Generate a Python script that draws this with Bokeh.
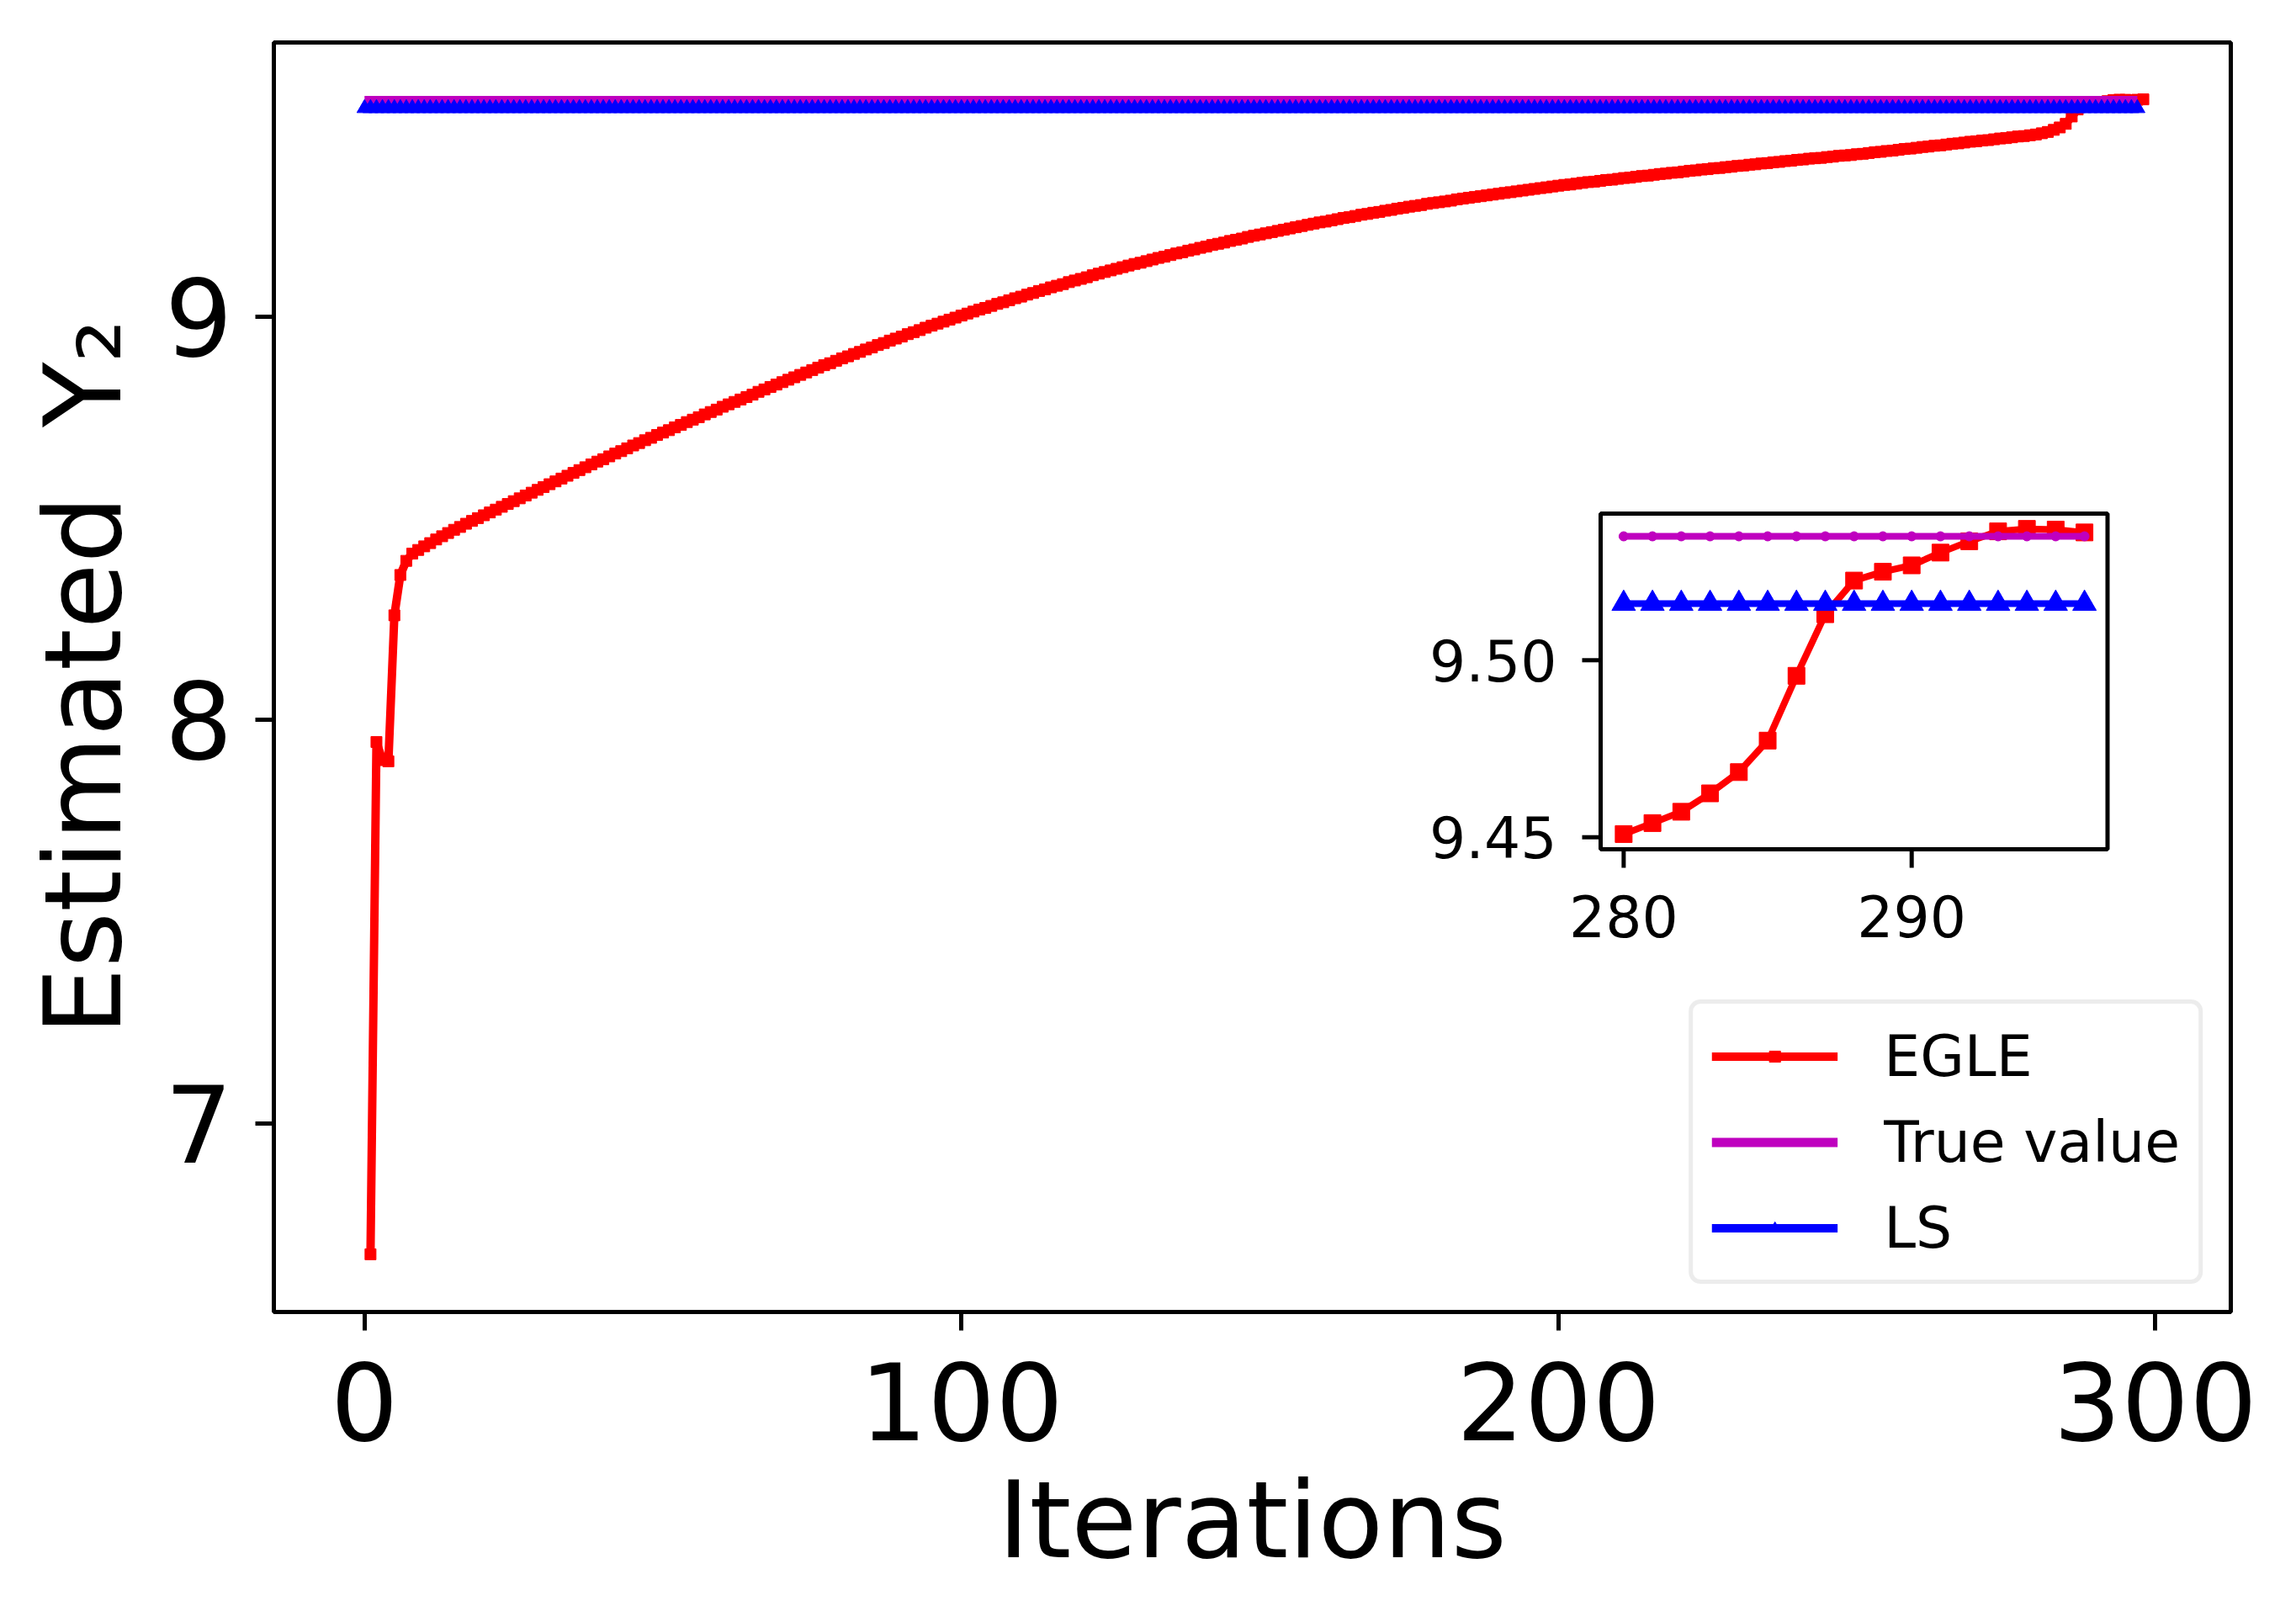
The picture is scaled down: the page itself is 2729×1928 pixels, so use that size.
import numpy as np
from bokeh.plotting import figure
from bokeh.models import Range1d, FixedTicker, Legend, LegendItem
from bokeh.embed import file_html
from bokeh.resources import INLINE
from bokeh.core.properties import value

# ---------------- data ----------------
egle_iterations = list(range(1, 299))          # 1 .. 298
egle_estimate = [
    6.675, 7.945, 7.900, 7.897, 8.259, 8.359, 8.394, 8.412, 8.421, 8.430,
    8.438, 8.447, 8.455, 8.463, 8.471, 8.478, 8.486, 8.493, 8.500, 8.507,
    8.514, 8.521, 8.528, 8.535, 8.542, 8.549, 8.556, 8.563, 8.570, 8.577,
    8.584, 8.591, 8.598, 8.605, 8.612, 8.619, 8.626, 8.633, 8.640, 8.646,
    8.653, 8.660, 8.666, 8.673, 8.680, 8.686, 8.693, 8.699, 8.706, 8.712,
    8.718, 8.725, 8.731, 8.738, 8.744, 8.750, 8.757, 8.763, 8.769, 8.776,
    8.782, 8.788, 8.794, 8.800, 8.806, 8.813, 8.819, 8.825, 8.831, 8.837,
    8.843, 8.849, 8.855, 8.861, 8.867, 8.873, 8.879, 8.884, 8.890, 8.896,
    8.901, 8.907, 8.912, 8.918, 8.923, 8.929, 8.934, 8.940, 8.945, 8.950,
    8.956, 8.961, 8.966, 8.972, 8.977, 8.982, 8.987, 8.992, 8.997, 9.002,
    9.007, 9.012, 9.017, 9.021, 9.026, 9.031, 9.035, 9.040, 9.045, 9.049,
    9.054, 9.058, 9.063, 9.067, 9.072, 9.076, 9.080, 9.085, 9.089, 9.093,
    9.097, 9.102, 9.106, 9.110, 9.114, 9.118, 9.122, 9.126, 9.130, 9.133,
    9.137, 9.141, 9.145, 9.148, 9.152, 9.156, 9.159, 9.163, 9.166, 9.170,
    9.173, 9.177, 9.180, 9.183, 9.187, 9.190, 9.193, 9.197, 9.200, 9.203,
    9.206, 9.209, 9.212, 9.215, 9.218, 9.221, 9.224, 9.227, 9.230, 9.233,
    9.235, 9.238, 9.241, 9.244, 9.246, 9.249, 9.252, 9.254, 9.257, 9.259,
    9.262, 9.264, 9.267, 9.269, 9.272, 9.274, 9.276, 9.279, 9.281, 9.283,
    9.285, 9.287, 9.290, 9.292, 9.294, 9.296, 9.298, 9.300, 9.302, 9.304,
    9.306, 9.308, 9.310, 9.312, 9.314, 9.316, 9.318, 9.320, 9.322, 9.324,
    9.326, 9.327, 9.329, 9.331, 9.333, 9.334, 9.336, 9.338, 9.339, 9.341,
    9.343, 9.344, 9.346, 9.348, 9.349, 9.351, 9.353, 9.354, 9.356, 9.357,
    9.359, 9.361, 9.362, 9.364, 9.365, 9.367, 9.368, 9.370, 9.371, 9.373,
    9.374, 9.376, 9.377, 9.379, 9.380, 9.382, 9.383, 9.385, 9.386, 9.388,
    9.389, 9.391, 9.392, 9.393, 9.395, 9.396, 9.398, 9.399, 9.400, 9.402,
    9.403, 9.405, 9.407, 9.408, 9.410, 9.411, 9.413, 9.415, 9.416, 9.418,
    9.420, 9.421, 9.423, 9.424, 9.426, 9.428, 9.429, 9.431, 9.433, 9.434,
    9.436, 9.437, 9.439, 9.441, 9.442, 9.444, 9.446, 9.447, 9.449, 9.4509,
    9.4540, 9.4572, 9.4624, 9.4684, 9.4773, 9.4956, 9.5130, 9.5225, 9.5250, 9.5268,
    9.5304, 9.5336, 9.5364, 9.5371, 9.5369, 9.5361, 9.5370, 9.5380,
]
ref_iterations = list(range(0, 298))            # 0 .. 297
TRUE_VALUE = 9.535
LS_VALUE = 9.516
true_series = [TRUE_VALUE] * len(ref_iterations)
ls_series = [LS_VALUE] * len(ref_iterations)

main_x_ticks = [0, 100, 200, 300]
main_y_ticks = [7, 8, 9]
inset_first, inset_last = 280, 296
inset_x_ticks = [280, 290]
inset_x_labels = ["280", "290"]
inset_y_ticks = [9.45, 9.50]
inset_y_labels = ["9.45", "9.50"]

RED = "#ff0000"
MAGENTA = "#bf00bf"
BLUE = "#0000ff"
FONT = "DejaVu Sans"

# inset series (same data, zoomed window)
inset_x = [x for x in egle_iterations if inset_first <= x <= inset_last]
inset_egle = [egle_estimate[egle_iterations.index(x)] for x in inset_x]
inset_true = [TRUE_VALUE] * len(inset_x)
inset_ls = [LS_VALUE] * len(inset_x)

# ---------------- figure ----------------
W, H = 2712, 1910
FRAME_W, FRAME_H = 2326, 1509
LEFT, TOP = 325, 50
p = figure(width=W, height=H,
           x_range=Range1d(-15.19, 312.65), y_range=Range1d(6.532, 9.679),
           output_backend="svg", toolbar_location=None,
           min_border_left=LEFT, min_border_right=W - LEFT - FRAME_W,
           min_border_top=TOP, min_border_bottom=H - TOP - FRAME_H)
p.xgrid.visible = False
p.ygrid.visible = False
p.outline_line_color = "black"
p.outline_line_width = 5
p.background_fill_color = "white"
p.border_fill_color = "white"

for ax in (p.xaxis[0], p.yaxis[0]):
    ax.axis_line_color = None
    ax.major_tick_in = 0
    ax.major_tick_out = 22
    ax.major_tick_line_width = 5
    ax.major_tick_line_color = "black"
    ax.minor_tick_line_color = None
    ax.major_label_text_font = FONT
    ax.major_label_text_font_size = "127px"
    ax.major_label_text_color = "black"
    ax.axis_label_text_font = FONT
    ax.axis_label_text_font_size = "127px"
    ax.axis_label_text_font_style = "normal"
    ax.axis_label_text_color = "black"

p.xaxis[0].ticker = FixedTicker(ticks=main_x_ticks)
p.yaxis[0].ticker = FixedTicker(ticks=main_y_ticks)
p.xaxis[0].axis_label = "Iterations"
p.yaxis[0].axis_label = "Estimated\u00a0 Y\u2082"
p.xaxis[0].major_label_standoff = 37
p.xaxis[0].axis_label_standoff = 18
p.yaxis[0].major_label_standoff = 27
p.yaxis[0].axis_label_standoff = 20

# main series
r_e_line = p.line(egle_iterations, egle_estimate, line_color=RED, line_width=10)
r_e_pts = p.scatter(egle_iterations, egle_estimate, marker="square", size=13,
                    fill_color=RED, line_color=RED, line_width=1)
r_t_line = p.line(ref_iterations, true_series, line_color=MAGENTA, line_width=11)
r_l_line = p.line(ref_iterations, ls_series, line_color=BLUE, line_width=10)
r_l_pts = p.scatter(ref_iterations, ls_series, marker="triangle", size=18,
                    fill_color=BLUE, line_color=BLUE, line_width=1)

# ---------------- inset (sub-coordinates inside the main frame) ----------------
xs = Range1d(279.2, 296.8)
ys = Range1d(9.4466, 9.5414)
sub = p.subplot(x_source=xs, y_source=ys,
                x_target=Range1d(207.08, 292.0), y_target=Range1d(7.679, 8.511))
sub.quad(left=[xs.start], right=[xs.end], bottom=[ys.start], top=[ys.end],
         fill_color="white", line_color="black", line_width=5)
sub.line(inset_x, inset_egle, line_color=RED, line_width=8)
sub.scatter(inset_x, inset_egle, marker="square", size=20, fill_color=RED, line_color=RED)
sub.line(inset_x, inset_true, line_color=MAGENTA, line_width=8)
sub.scatter(inset_x, inset_true, marker="circle", size=11, fill_color=MAGENTA, line_color=MAGENTA)
sub.line(inset_x, inset_ls, line_color=BLUE, line_width=8)
sub.scatter(inset_x, inset_ls, marker="triangle", size=28, fill_color=BLUE, line_color=BLUE)
# inset ticks
sub.ray(x=inset_x_ticks, y=[ys.start] * len(inset_x_ticks), length=22, length_units="screen",
        angle=-np.pi / 2, line_color="black", line_width=5)
sub.ray(x=[xs.start] * len(inset_y_ticks), y=inset_y_ticks, length=22, length_units="screen",
        angle=np.pi, line_color="black", line_width=5)
sub.text(x=inset_x_ticks, y=[ys.start] * len(inset_x_ticks), text=inset_x_labels,
         text_align="center", text_baseline="top", y_offset=54,
         text_font=value(FONT), text_font_size="68px", text_color="black")
sub.text(x=[xs.start] * len(inset_y_ticks), y=inset_y_ticks, text=inset_y_labels,
         text_align="right", text_baseline="middle", x_offset=-52,
         text_font=value(FONT), text_font_size="68px", text_color="black")

# ---------------- legend ----------------
legend = Legend(items=[
    LegendItem(label="EGLE", renderers=[r_e_line, r_e_pts]),
    LegendItem(label="True value", renderers=[r_t_line]),
    LegendItem(label="LS", renderers=[r_l_line, r_l_pts]),
], location="bottom_right")
legend.margin = 33
legend.padding = 22
legend.spacing = 22
legend.glyph_width = 150
legend.glyph_height = 33
legend.label_height = 80
legend.label_standoff = 55
legend.label_text_font = FONT
legend.label_text_font_size = "68px"
legend.label_text_color = "black"
legend.border_line_color = "#d9d9d9"
legend.border_line_width = 5
legend.background_fill_color = "white"
legend.background_fill_alpha = 1.0
if "border_radius" in Legend.properties():
    legend.border_radius = 14
p.add_layout(legend)

open("out.html", "w").write(file_html(p, INLINE))
